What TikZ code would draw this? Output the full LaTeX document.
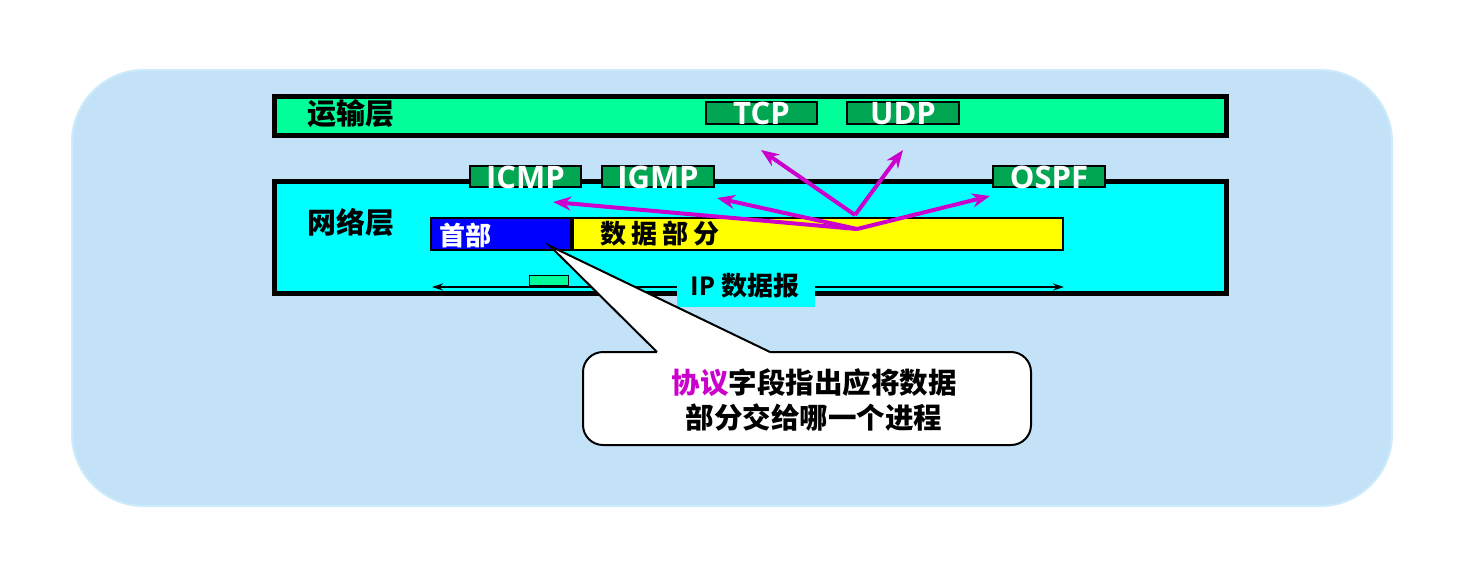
\documentclass[tikz,border=0pt]{standalone}
\usepackage{fontspec}
\setmainfont{Open Sans}
\newfontfamily\cjk{Noto Sans CJK SC}
\usetikzlibrary{arrows.meta}
\definecolor{bgblue}{HTML}{C4E2F7}
\definecolor{edgeblue}{HTML}{CDEBFB}
\definecolor{trg}{HTML}{00FF99}
\definecolor{protog}{HTML}{00A651}
\definecolor{netcyan}{HTML}{00FFFF}
\definecolor{hdrblue}{HTML}{0000FF}
\definecolor{datayel}{HTML}{FFFF00}
\definecolor{arrmag}{HTML}{CC00CC}
\begin{document}
\begin{tikzpicture}[x=1pt,y=-1pt,
  layerbar/.style={draw=black, line width=4.5pt, anchor=north west, inner sep=0pt},
  pbox/.style={draw=black, line width=2.5pt, fill=protog, inner sep=0pt},
  ptext/.style={font=\bfseries\fontsize{31}{33}\selectfont, text=white, inner sep=0pt, anchor=base},
  cjklbl/.style={font=\cjk\bfseries\fontsize{29}{31}\selectfont, inner sep=0pt},
  fieldbox/.style={draw=black, line width=2.5pt, inner sep=0pt, minimum height=32pt},
  magarrow/.style={draw=arrmag, line width=4pt, -{Stealth[length=18pt,width=14pt]}},
]
\useasboundingbox (0,0) rectangle (1463,582);
\fill[white] (0,0) rectangle (1463,582);
% background panel
\path[fill=bgblue, draw=edgeblue, line width=2pt, rounded corners=72pt] (72,70) rectangle (1392,506);

% transport layer
\node[layerbar, fill=trg, minimum width=952pt, minimum height=39pt] (trans) at (272,94) {};
\node[cjklbl] (translbl) at (351,114) {运输层};
\node[pbox, minimum width=111pt, minimum height=22pt] (tcp) at (761.5,113) {};
\node[ptext] (tcptxt) at ([yshift=1pt]tcp.south) {TCP};
\node[pbox, minimum width=112pt, minimum height=22pt] (udp) at (903,113) {};
\node[ptext] (udptxt) at ([yshift=1pt]udp.south) {UDP};

% network layer
\node[layerbar, fill=netcyan, minimum width=952pt, minimum height=112pt] (net) at (272,179) {};
\node[cjklbl] (netlbl) at (351,222) {网络层};
\node[pbox, minimum width=111pt, minimum height=21pt] (icmp) at (525.5,176.5) {};
\node[ptext] (icmptxt) at (icmp.south) {ICMP};
\node[pbox, minimum width=112pt, minimum height=21pt] (igmp) at (658,176.5) {};
\node[ptext] (igmptxt) at (igmp.south) {IGMP};
\node[pbox, minimum width=112pt, minimum height=21pt] (ospf) at (1049,176.5) {};
\node[ptext] (ospftxt) at (ospf.south) {OSPF};

% datagram fields
\node[fieldbox, fill=hdrblue, minimum width=140pt] (hdr) at (501,234) {};
\node[cjklbl, text=white, font=\cjk\bfseries\fontsize{26}{28}\selectfont] (hdrtxt) at (465,235) {首部};
\node[fieldbox, fill=datayel, minimum width=490pt] (data) at (818,234) {};
\node[cjklbl, font=\cjk\bfseries\fontsize{26}{28}\selectfont] (datatxt) at (660,234) {数\hspace{5pt}据\hspace{5pt}部\hspace{5pt}分};

% IP datagram span arrow
\coordinate (ipl) at (432,287);
\coordinate (ipr) at (1064,287);
\draw[line width=1.5pt, {Stealth[length=11pt,width=7pt]}-{Stealth[length=11pt,width=7pt]}] (ipl) -- (ipr);
\node[draw=black, line width=1.5pt, fill=trg, minimum width=39pt, minimum height=10pt, inner sep=0pt] (protofield) at (549,280.5) {};
\node[fill=netcyan, minimum width=138pt, minimum height=37pt, inner sep=0pt] (iplbl) at (746,288.5) {};
\node[cjklbl, font=\bfseries\fontsize{26}{28}\selectfont] (iptxt) at (745,286) {IP {\cjk 数据报}};

% callout
\node[draw=black, line width=2pt, fill=white, rounded corners=20pt, minimum width=448pt, minimum height=93pt, inner sep=0pt] (callout) at (807,398.5) {};
\coordinate (ctip) at (550,246);
\coordinate (cbl) at (657,352);
\coordinate (cbr) at (770,352);
\fill[white] (ctip) -- (cbl) -- ([yshift=-3pt]cbl) -- ([yshift=-3pt]cbr) -- (cbr) -- cycle;
\draw[line width=2pt] (cbl) -- (ctip) -- (cbr);
\node[cjklbl, font=\cjk\bfseries\fontsize{28.5}{30}\selectfont] (cline1) at (814,383) {\textcolor{arrmag}{协议}字段指出应将数据};
\node[cjklbl, font=\cjk\bfseries\fontsize{28.5}{30}\selectfont] (cline2) at (814,418) {部分交给哪一个进程};

% magenta arrows
\coordinate (apex) at (855,215);
\coordinate (low) at (857,229);
\coordinate (tcptip) at (761,150);
\coordinate (udptip) at (903,150);
\coordinate (icmptip) at (553,202);
\coordinate (igmptip) at (717,198);
\coordinate (ospftip) at (990,196);
\draw[magarrow] (low) -- (icmptip);
\draw[magarrow] (low) -- (igmptip);
\draw[magarrow] (low) -- (ospftip);
\draw[magarrow] (apex) -- (tcptip);
\draw[magarrow] (apex) -- (udptip);
\end{tikzpicture}
\end{document}
